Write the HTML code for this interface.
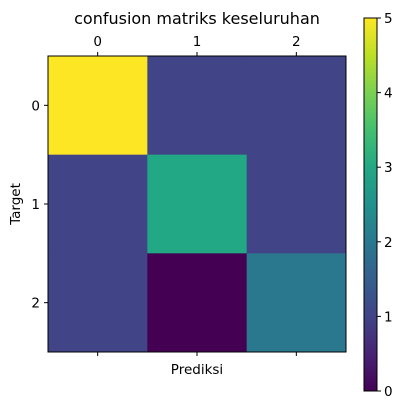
<!DOCTYPE html>
<html><head><meta charset="utf-8"><style>
body{margin:0;background:#fff;}
svg{display:block;font-family:"DejaVu Sans","Liberation Sans",sans-serif;}
</style></head><body>
<svg id="chart" width="411" height="409">
<defs><linearGradient id="vir" x1="0" y1="1" x2="0" y2="0">
<stop offset="0" stop-color="#440154"/><stop offset="0.1" stop-color="#482475"/><stop offset="0.2" stop-color="#414487"/><stop offset="0.3" stop-color="#355f8d"/><stop offset="0.4" stop-color="#2a788e"/><stop offset="0.5" stop-color="#21918c"/><stop offset="0.6" stop-color="#22a884"/><stop offset="0.7" stop-color="#44bf70"/><stop offset="0.8" stop-color="#7ad151"/><stop offset="0.9" stop-color="#bddf26"/><stop offset="1" stop-color="#fde725"/></linearGradient></defs>
<text x="197" y="24" font-size="16" text-anchor="middle">confusion matriks keseluruhan</text>
<g id="cells"></g>
<rect x="48" y="56" width="298" height="296" fill="none" stroke="#000" stroke-width="1"/>
<g id="ticks" font-size="13.5"></g>
<text x="197" y="374" font-size="13.5" text-anchor="middle">Prediksi</text>
<text x="20" y="204" font-size="13.5" text-anchor="middle" transform="rotate(-90 20 204)">Target</text>
<rect x="364" y="18" width="13" height="373" fill="url(#vir)" stroke="#000" stroke-width="1"/>
<g id="cbticks" font-size="13.5"></g>
</svg>
<script>
const matrix = [[5,1,1],[1,3,1],[1,0,2]];
const classLabels = ["0","1","2"];
const cbTicks = [0,1,2,3,4,5];
const vmin = 0, vmax = 5;
const viridis = ["#440154","#482475","#414487","#355f8d","#2a788e","#21918c","#22a884","#44bf70","#7ad151","#bddf26","#fde725"];
function hex(h){return [1,3,5].map(i=>parseInt(h.substr(i,2),16));}
function color(v){
  const t=Math.max(0,Math.min(1,(v-vmin)/(vmax-vmin)));
  const p=t*10;let i=Math.min(9,Math.floor(p));const f=p-i;
  const a=hex(viridis[i]),b=hex(viridis[i+1]);
  return "rgb("+a.map((x,k)=>Math.round(x+(b[k]-x)*f)).join(",")+")";
}
const X0=48,Y0=56,W=298,H=296,n=classLabels.length,cw=W/n,ch=H/n;
const NS="http://www.w3.org/2000/svg";
const cells=document.getElementById('cells');
matrix.forEach((row,r)=>row.forEach((v,c)=>{
  const e=document.createElementNS(NS,'rect');
  e.setAttribute('x',X0+c*cw);e.setAttribute('y',Y0+r*ch);
  e.setAttribute('width',cw+0.5);e.setAttribute('height',ch+0.5);
  e.setAttribute('fill',color(v));
  
  
  cells.appendChild(e);
}));
const tk=document.getElementById('ticks');
function add(p,tag,attrs,txt){const e=document.createElementNS(NS,tag);for(const k in attrs)e.setAttribute(k,attrs[k]);if(txt!==undefined)e.textContent=txt;p.appendChild(e);return e;}
classLabels.forEach((l,i)=>{
  const cx=X0+(i+0.5)*cw, cy=Y0+(i+0.5)*ch;
  add(tk,'line',{x1:cx,x2:cx,y1:Y0,y2:Y0-4,stroke:'#000'});
  add(tk,'line',{x1:cx,x2:cx,y1:Y0+H,y2:Y0+H+4,stroke:'#000'});
  const t1=add(tk,'text',{x:cx,y:Y0-10,'text-anchor':'middle'},l);
  
  
  add(tk,'line',{x1:X0,x2:X0-4,y1:cy,y2:cy,stroke:'#000'});
  const t2=add(tk,'text',{x:X0-8,y:cy+5,'text-anchor':'end'},l);
  
  
});
const cb=document.getElementById('cbticks');
const CY0=18,CH=373;
cbTicks.forEach(v=>{
  const y=CY0+CH-(v-vmin)/(vmax-vmin)*CH;
  add(cb,'line',{x1:377,x2:381,y1:y,y2:y,stroke:'#000'});
  const t=add(cb,'text',{x:384,y:y+5},String(v));
  
  
});
</script>
</body></html>
